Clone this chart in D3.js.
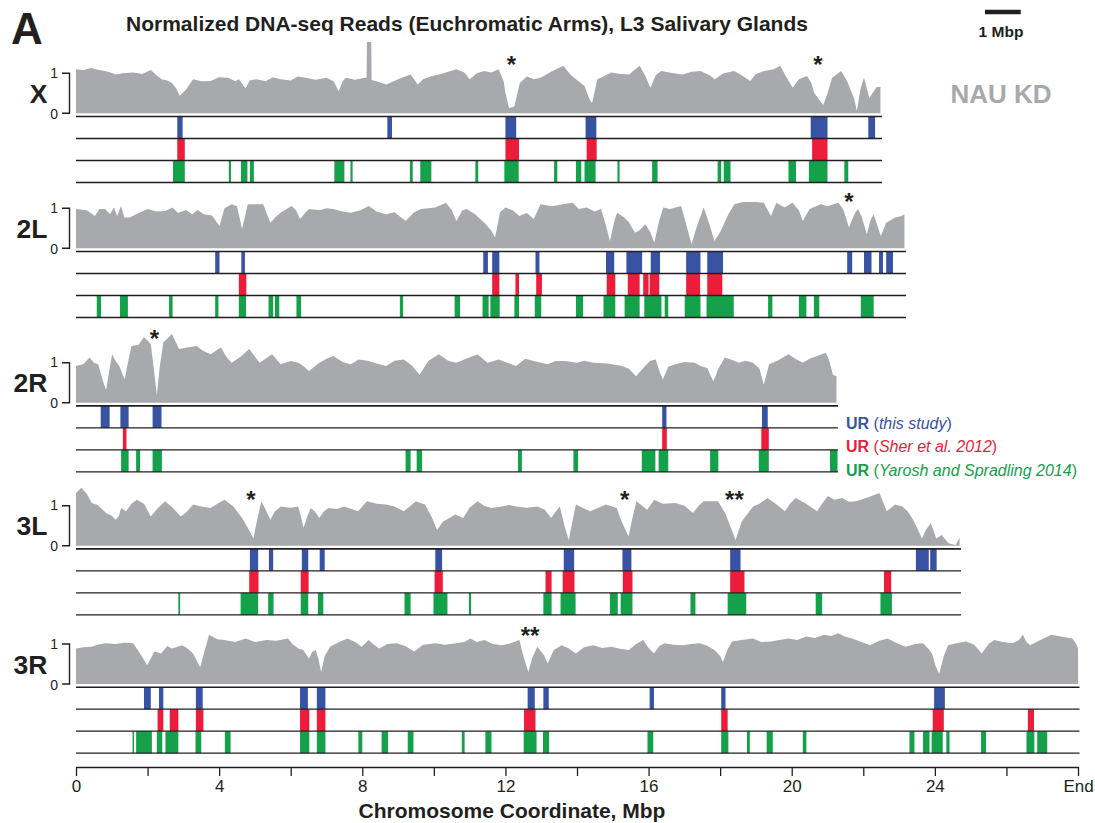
<!DOCTYPE html>
<html>
<head>
<meta charset="utf-8">
<script src="https://cdnjs.cloudflare.com/ajax/libs/d3/7.8.5/d3.min.js"></script>
<style>
html,body{margin:0;padding:0;background:#fff;}
svg{display:block;font-family:"Liberation Sans",Arial,Helvetica,sans-serif;}
</style>
</head>
<body>
<svg id="chart" width="1095" height="823"></svg>
<script>
// ---------------- DATA ----------------
const chromosomes = ["X", "2L", "2R", "3L", "3R"];
const chromLengths = [22.48, 23.15, 21.25, 24.69, 28.0]; // Mbp
const axisTicks = [0, 2, 4, 6, 8, 10, 12, 14, 16, 18, 20, 22, 24, 26, 28];
const axisTickLabels = ["0", "", "4", "", "8", "", "12", "", "16", "", "20", "", "24", "", "End"];
const trackNames = ["UR", "UR", "UR"];
const trackSources = ["this study", "Sher et al. 2012", "Yarosh and Spradling 2014"];

// normalized coverage [position Mbp, value]
const covX = [[0,1.10],[0.2,1.08],[0.43,1.13],[0.6,1.09],[0.82,1.06],[1.0,1.01],[1.11,0.97],[1.3,1.00],[1.6,1.02],[1.85,0.98],[2.09,1.08],[2.25,0.95],[2.39,0.85],[2.55,0.82],[2.68,0.76],[2.80,0.62],[2.90,0.44],[3.07,0.59],[3.27,0.85],[3.5,0.80],[3.76,0.81],[4.0,0.90],[4.25,0.89],[4.45,0.80],[4.55,0.85],[4.74,0.62],[4.85,0.82],[5.04,0.85],[5.3,0.80],[5.5,0.90],[5.72,0.85],[6.0,0.82],[6.2,0.92],[6.41,0.89],[6.7,0.84],[7.0,0.89],[7.2,0.80],[7.34,0.55],[7.45,0.80],[7.54,0.89],[7.8,0.84],[8.08,0.89],[8.12,0.89],[8.13,1.78],[8.25,1.78],[8.26,0.83],[8.37,0.81],[8.67,0.72],[9.0,0.85],[9.2,0.92],[9.35,0.97],[9.55,0.72],[9.7,0.85],[9.9,0.92],[10.2,0.98],[10.63,1.10],[10.85,1.02],[11.0,0.85],[11.2,1.00],[11.41,1.06],[11.6,1.02],[11.81,1.10],[11.95,0.80],[12.0,0.51],[12.1,0.13],[12.25,0.17],[12.4,0.76],[12.6,0.92],[12.8,0.85],[12.98,0.89],[13.3,1.05],[13.62,1.19],[13.8,0.98],[13.97,0.85],[14.21,0.68],[14.35,0.35],[14.42,0.25],[14.57,0.85],[14.8,0.95],[14.96,1.02],[15.2,0.98],[15.46,0.97],[15.6,1.08],[15.75,1.19],[15.9,0.95],[16.05,0.64],[16.2,0.95],[16.35,1.06],[16.7,1.00],[16.95,0.97],[17.2,1.04],[17.45,1.06],[17.7,0.95],[17.85,0.85],[18.1,1.00],[18.39,1.06],[18.6,0.95],[18.84,0.81],[19.0,0.98],[19.24,1.06],[19.5,1.10],[19.68,1.19],[19.85,0.90],[20.03,0.64],[20.2,0.85],[20.43,0.93],[20.55,0.75],[20.63,0.51],[20.88,0.21],[21.0,0.50],[21.13,0.89],[21.38,1.06],[21.55,0.80],[21.75,0.35],[21.82,0.06],[21.92,0.60],[22.02,0.89],[22.17,0.38],[22.37,0.66],[22.48,0.66]];
const cov2L = [[0,0.98],[0.3,0.95],[0.53,0.81],[0.65,0.98],[0.81,0.98],[0.95,0.85],[1.06,1.02],[1.15,0.81],[1.26,1.06],[1.35,0.77],[1.50,0.77],[1.75,0.88],[2.0,0.98],[2.25,0.92],[2.49,0.93],[2.7,1.02],[2.85,0.88],[3.07,0.96],[3.25,0.85],[3.4,0.96],[3.57,0.85],[3.8,0.82],[4.01,0.56],[4.15,1.0],[4.35,1.10],[4.5,1.05],[4.64,0.48],[4.8,1.10],[4.94,1.10],[5.23,1.10],[5.43,0.64],[5.6,0.80],[5.72,0.89],[6.02,1.06],[6.15,0.95],[6.26,0.73],[6.4,0.88],[6.51,0.98],[6.8,0.95],[7.0,1.0],[7.19,0.98],[7.45,0.92],[7.68,0.89],[7.95,0.95],[8.18,1.06],[8.4,0.92],[8.67,0.85],[8.9,0.90],[9.21,0.68],[9.45,0.90],[9.65,0.98],[10.04,1.02],[10.2,1.08],[10.34,1.14],[10.5,0.95],[10.63,0.68],[10.8,0.95],[10.92,0.98],[11.15,0.85],[11.41,0.64],[11.6,0.45],[11.71,0.27],[11.85,0.90],[12.0,1.02],[12.2,0.95],[12.39,0.81],[12.6,0.88],[12.79,0.73],[12.98,1.10],[13.3,1.05],[13.6,1.10],[13.88,1.14],[14.05,0.98],[14.27,1.02],[14.5,0.92],[14.67,0.98],[14.80,0.60],[14.92,0.18],[15.05,0.70],[15.12,0.89],[15.32,0.77],[15.45,0.65],[15.62,0.39],[15.75,0.45],[15.91,0.60],[16.05,0.40],[16.16,0.14],[16.3,0.70],[16.41,1.02],[16.6,0.98],[16.91,1.06],[17.05,0.60],[17.20,0.10],[17.35,0.55],[17.54,1.02],[17.7,0.60],[17.84,0.18],[18.0,0.40],[18.23,0.85],[18.4,1.10],[18.63,1.16],[19.0,1.16],[19.22,1.14],[19.42,0.81],[19.57,1.14],[19.8,1.02],[20.02,1.14],[20.2,0.95],[20.31,0.68],[20.5,0.98],[20.81,1.10],[21.0,1.05],[21.31,1.14],[21.45,0.95],[21.60,0.52],[21.75,0.85],[21.85,0.98],[21.95,0.80],[22.10,0.35],[22.2,0.70],[22.29,0.85],[22.49,0.31],[22.64,0.64],[22.89,0.77],[23.05,0.80],[23.15,0.85]];
const cov2R = [[0,0.92],[0.2,0.96],[0.38,1.13],[0.5,1.0],[0.62,0.96],[0.75,0.55],[0.84,0.32],[0.92,0.75],[1.01,1.21],[1.1,1.05],[1.21,0.92],[1.36,0.58],[1.45,1.0],[1.55,1.42],[1.75,1.45],[1.90,1.64],[2.0,1.55],[2.09,1.47],[2.18,0.80],[2.26,0.19],[2.34,0.90],[2.44,1.51],[2.55,1.60],[2.68,1.72],[2.88,1.34],[3.1,1.38],[3.37,1.42],[3.55,1.30],[3.76,1.21],[4.05,1.38],[4.2,1.15],[4.35,1.0],[4.6,1.15],[4.84,1.34],[5.0,1.15],[5.13,1.0],[5.3,1.10],[5.48,1.21],[5.72,0.96],[6.0,1.04],[6.21,1.0],[6.35,0.92],[6.51,0.79],[6.8,1.0],[7.0,1.10],[7.19,1.17],[7.45,1.02],[7.68,0.96],[7.9,1.08],[8.18,1.04],[8.4,0.98],[8.67,0.92],[8.9,1.05],[9.16,1.08],[9.4,0.92],[9.60,0.70],[9.85,1.05],[10.14,1.21],[10.4,1.05],[10.63,1.0],[10.9,1.10],[11.22,1.21],[11.5,1.0],[11.81,1.08],[12.05,1.0],[12.30,0.92],[12.55,1.10],[12.79,1.04],[13.0,1.0],[13.18,0.96],[13.4,1.04],[13.67,1.04],[14.0,1.0],[14.2,1.05],[14.46,1.0],[14.85,0.98],[15.26,0.92],[15.45,0.85],[15.65,0.66],[15.9,0.92],[16.05,1.05],[16.20,1.08],[16.30,0.80],[16.40,0.58],[16.55,0.90],[16.75,0.96],[17.0,1.02],[17.29,1.0],[17.45,0.92],[17.64,0.87],[17.81,0.53],[17.95,0.85],[18.13,1.13],[18.3,1.08],[18.53,1.0],[18.7,1.05],[18.92,1.0],[19.1,0.85],[19.22,0.45],[19.37,0.96],[19.6,1.05],[19.91,1.21],[20.1,1.10],[20.31,1.0],[20.5,1.10],[20.71,1.17],[20.95,1.25],[21.05,1.05],[21.15,0.70],[21.25,0.66]];
const cov3L = [[0,1.32],[0.15,1.45],[0.3,1.30],[0.44,1.07],[0.6,1.02],[0.84,0.82],[1.0,0.75],[1.11,0.65],[1.2,0.75],[1.26,0.94],[1.40,0.86],[1.55,1.05],[1.70,1.15],[1.9,1.05],[2.09,0.73],[2.3,0.95],[2.49,1.11],[2.7,0.95],[2.93,0.73],[3.1,0.85],[3.27,1.03],[3.5,0.98],[3.76,0.94],[3.95,1.05],[4.15,1.15],[4.4,0.98],[4.64,0.69],[4.8,0.45],[4.96,0.18],[5.05,0.60],[5.18,1.11],[5.3,0.90],[5.43,0.65],[5.55,0.85],[5.72,0.98],[6.0,0.95],[6.21,0.98],[6.28,0.75],[6.36,0.44],[6.45,0.70],[6.56,0.94],[6.68,0.85],[6.80,0.69],[6.92,0.85],[7.05,0.94],[7.3,0.92],[7.49,0.98],[7.7,0.92],[7.88,0.86],[8.13,1.11],[8.4,1.05],[8.67,1.03],[8.9,0.98],[9.16,0.86],[9.35,1.0],[9.50,1.11],[9.75,1.03],[9.95,0.70],[10.09,0.39],[10.25,0.60],[10.43,0.69],[10.6,0.78],[10.82,0.69],[11.0,0.95],[11.22,1.11],[11.4,1.0],[11.61,0.94],[11.9,0.98],[12.1,1.02],[12.30,0.98],[12.6,0.95],[12.89,0.98],[13.1,0.90],[13.28,0.69],[13.40,0.85],[13.52,0.98],[13.65,0.50],[13.77,0.14],[13.87,0.60],[13.97,1.03],[14.15,0.95],[14.37,0.86],[14.6,0.95],[14.81,1.03],[15.11,0.94],[15.25,0.60],[15.44,0.23],[15.55,0.70],[15.66,1.11],[15.96,0.90],[16.16,1.15],[16.4,1.05],[16.75,1.07],[17.0,1.0],[17.24,0.82],[17.4,1.0],[17.54,1.11],[17.94,1.11],[18.15,0.80],[18.30,0.45],[18.43,0.14],[18.6,0.60],[18.92,0.98],[19.1,1.05],[19.32,1.19],[19.55,1.05],[19.81,0.86],[19.95,1.05],[20.11,1.19],[20.4,1.05],[20.71,0.86],[20.85,1.05],[21.01,1.24],[21.2,1.15],[21.41,1.19],[21.6,1.10],[21.80,1.11],[22.1,1.20],[22.45,1.32],[22.55,1.10],[22.65,0.86],[22.89,1.03],[23.09,0.98],[23.25,0.85],[23.39,0.65],[23.5,0.45],[23.64,0.18],[23.75,0.40],[23.89,0.56],[24.04,0.18],[24.19,0.27],[24.38,0.06],[24.58,0.02],[24.69,0.20]];
const cov3R = [[0,0.89],[0.2,0.92],[0.43,0.93],[0.6,0.98],[0.82,1.02],[1.1,1.0],[1.35,1.03],[1.60,1.02],[1.79,0.76],[1.99,0.47],[2.19,0.81],[2.38,0.76],[2.55,0.95],[2.68,0.89],[2.97,0.97],[3.1,0.90],[3.27,0.76],[3.47,0.42],[3.6,0.85],[3.72,1.23],[3.95,1.12],[4.15,1.10],[4.45,1.05],[4.74,1.14],[5.0,1.05],[5.33,1.10],[5.6,1.08],[5.92,1.14],[6.05,1.0],[6.21,0.89],[6.35,0.85],[6.51,0.64],[6.60,0.80],[6.70,0.85],[6.78,0.60],[6.85,0.30],[6.95,0.70],[7.10,0.93],[7.35,1.05],[7.59,1.14],[7.8,1.05],[7.98,0.93],[8.18,1.10],[8.3,1.0],[8.47,0.89],[8.7,1.0],[8.96,1.02],[9.2,0.95],[9.45,0.81],[9.7,0.98],[10.04,1.02],[10.3,0.98],[10.63,1.02],[10.85,1.05],[11.02,1.14],[11.2,1.05],[11.41,1.10],[11.65,1.0],[11.90,0.97],[12.15,1.02],[12.39,1.10],[12.50,0.70],[12.64,0.30],[12.75,0.65],[12.89,0.93],[13.08,0.72],[13.18,0.51],[13.35,0.85],[13.57,0.97],[13.75,0.90],[13.97,0.76],[14.2,0.92],[14.46,0.97],[14.7,0.90],[14.96,0.93],[15.2,0.88],[15.45,0.85],[15.65,1.0],[15.85,1.10],[16.0,0.90],[16.15,0.76],[16.3,0.95],[16.45,1.02],[16.7,0.98],[16.95,0.97],[17.2,1.0],[17.44,1.02],[17.65,0.95],[17.84,0.85],[18.0,0.70],[18.08,0.55],[18.2,0.85],[18.33,1.06],[18.6,1.10],[18.92,1.14],[19.15,1.05],[19.42,1.06],[19.65,1.10],[19.91,1.14],[20.15,1.10],[20.41,1.19],[20.65,1.15],[20.90,1.23],[21.1,1.20],[21.30,1.27],[21.5,1.18],[21.69,1.14],[21.95,1.05],[22.19,0.97],[22.45,1.08],[22.68,1.14],[22.95,1.02],[23.18,0.93],[23.45,1.0],[23.67,1.02],[23.85,0.85],[23.92,0.76],[24.02,0.45],[24.12,0.25],[24.25,0.70],[24.37,0.97],[24.6,1.02],[24.87,1.06],[25.1,0.98],[25.31,0.76],[25.5,1.0],[25.66,1.10],[25.9,1.05],[26.16,1.02],[26.35,1.10],[26.46,1.23],[26.56,1.05],[26.66,0.97],[26.95,1.10],[27.25,1.23],[27.55,1.18],[27.84,1.14],[27.95,1.0],[28.0,0.89]];

// unreplicated regions [start, end] Mbp
const urThisX = [[2.83,2.98],[8.70,8.83],[12.00,12.30],[14.24,14.54],[20.53,21.0],[22.14,22.33]];
const urSherX = [[2.83,3.04],[12.0,12.38],[14.27,14.55],[20.57,21.0]];
const urYaroshX = [[2.71,3.04],[4.27,4.33],[4.61,4.79],[4.86,4.97],[7.22,7.50],[7.67,7.73],[9.33,9.41],[9.62,9.93],[11.16,11.24],[11.97,12.37],[13.36,13.45],[13.97,14.12],[14.21,14.52],[15.13,15.19],[16.10,16.25],[17.93,18.03],[18.10,18.29],[19.91,20.12],[20.48,21.0],[21.47,21.58]];
const urThis2L = [[3.89,4.01],[4.62,4.72],[11.38,11.51],[11.63,11.83],[12.84,12.95],[14.81,15.04],[15.38,15.82],[16.06,16.32],[17.05,17.45],[17.64,18.08],[21.55,21.69],[22.02,22.23],[22.44,22.55],[22.64,22.83]];
const urSher2L = [[4.55,4.76],[11.63,11.83],[12.28,12.38],[12.86,13.02],[14.83,15.07],[15.42,15.75],[15.85,16.0],[16.03,16.30],[17.05,17.44],[17.64,18.06]];
const urYarosh2L = [[0.58,0.70],[1.23,1.45],[2.60,2.70],[3.89,3.98],[4.55,4.75],[5.38,5.51],[5.56,5.68],[6.16,6.29],[9.05,9.14],[10.58,10.73],[11.36,11.53],[11.58,11.84],[12.25,12.38],[12.82,13.0],[13.97,14.17],[14.74,15.07],[15.33,15.75],[15.88,16.36],[16.45,16.55],[17.01,17.45],[17.62,18.38],[19.34,19.46],[20.20,20.41],[20.62,20.77],[21.93,22.29]];
const urThis2R = [[0.69,0.94],[1.24,1.47],[2.14,2.39],[16.38,16.50],[19.17,19.33]];
const urSher2R = [[1.31,1.41],[16.38,16.51],[19.15,19.36]];
const urYarosh2R = [[1.26,1.47],[1.68,1.79],[2.14,2.40],[9.21,9.35],[9.52,9.67],[12.35,12.46],[13.90,14.03],[15.81,16.19],[16.28,16.55],[17.72,17.95],[19.08,19.36],[21.07,21.28]];
const urThis3L = [[4.86,5.09],[5.39,5.51],[6.31,6.49],[6.81,6.95],[10.04,10.23],[13.63,13.92],[15.27,15.52],[18.28,18.57],[23.47,23.83],[23.87,24.05]];
const urSher3L = [[4.84,5.10],[6.28,6.50],[10.02,10.25],[13.12,13.29],[13.60,13.93],[15.28,15.55],[18.28,18.68],[22.58,22.78]];
const urYarosh3L = [[2.86,2.91],[4.60,5.09],[5.37,5.52],[6.28,6.49],[6.76,6.91],[9.18,9.35],[9.99,10.38],[10.98,11.04],[13.06,13.29],[13.54,13.96],[14.92,15.14],[15.22,15.55],[17.17,17.31],[18.21,18.73],[20.67,20.85],[22.48,22.80]];
const urThis3R = [[1.90,2.09],[2.32,2.44],[3.35,3.54],[6.26,6.48],[6.73,6.97],[12.62,12.82],[13.06,13.21],[16.03,16.15],[18.03,18.15],[23.98,24.28]];
const urSher3R = [[2.28,2.44],[2.62,2.86],[3.35,3.56],[6.26,6.52],[6.73,6.97],[12.52,12.84],[18.03,18.21],[23.94,24.25],[26.60,26.77]];
const urYarosh3R = [[1.58,1.62],[1.68,2.12],[2.26,2.41],[2.50,2.86],[3.34,3.50],[4.16,4.32],[6.26,6.52],[6.73,6.97],[7.89,8.00],[8.54,8.72],[9.27,9.43],[10.78,10.86],[11.44,11.61],[12.51,12.87],[13.05,13.22],[15.97,16.13],[18.03,18.23],[18.75,18.83],[19.30,19.47],[20.31,20.41],[23.29,23.43],[23.67,23.85],[23.91,24.22],[24.32,24.41],[25.29,25.43],[26.56,26.78],[26.86,27.14]];

// asterisk annotations
const asteriskChrom = [0, 0, 1, 2, 3, 3, 3, 4];
const asteriskPos = [12.17, 20.73, 21.6, 2.19, 4.89, 15.33, 18.4, 12.69];
const asteriskText = ["*", "*", "*", "*", "*", "*", "**", "**"];

// ---------------- LAYOUT / STYLE ----------------
const coverages = [covX, cov2L, cov2R, cov3L, cov3R];
const tracks = [
  [urThisX, urSherX, urYaroshX],
  [urThis2L, urSher2L, urYarosh2L],
  [urThis2R, urSher2R, urYarosh2R],
  [urThis3L, urSher3L, urYarosh3L],
  [urThis3R, urSher3R, urYarosh3R]
];
const zeroY = [113.3, 248.3, 402.7, 545.7, 684.0];
const asteriskY = [62, 62, 199, 336, 497, 497, 497, 633];
const unitPx = 40;
const trackTopOffset = 3.2;
const rowH = 22;
const trackColors = ["#3953A4", "#ED1C3A", "#15A04A"];
const gray = "#A7A9AC";
const ink = "#231F20";

const svg = d3.select("#chart");
const x = d3.scaleLinear().domain([0, 28]).range([76, 1078]);

// title & panel letter
svg.append("text").attr("x", 11).attr("y", 43.5).attr("font-size", 44).attr("font-weight", "bold").attr("fill", ink).text("A");
svg.append("text").attr("x", 467).attr("y", 31).attr("text-anchor", "middle").attr("font-size", 21).attr("font-weight", "bold").attr("fill", ink)
  .text("Normalized DNA-seq Reads (Euchromatic Arms), L3 Salivary Glands");

// scale bar 1 Mbp
const sb0 = x(25.4), sb1 = x(26.4);
svg.append("line").attr("x1", sb0).attr("x2", sb1).attr("y1", 12).attr("y2", 12).attr("stroke", ink).attr("stroke-width", 4.5);
svg.append("text").attr("x", 1001).attr("y", 37).attr("text-anchor", "middle").attr("font-size", 15.5).attr("font-weight", "bold").attr("fill", ink).text("1 Mbp");
svg.append("text").attr("x", 1001).attr("y", 103).attr("text-anchor", "middle").attr("font-size", 26).attr("font-weight", "bold").attr("fill", gray).text("NAU KD");

chromosomes.forEach((chr, i) => {
  const z = zeroY[i];
  const y = d3.scaleLinear().domain([0, 1]).range([z, z - unitPx]);
  const g = svg.append("g");
  const L = chromLengths[i];

  // coverage area
  const area = d3.area().x(d => x(d[0])).y0(z).y1(d => y(d[1])).curve(d3.curveLinear);
  g.append("path").datum(coverages[i]).attr("d", area).attr("fill", gray);

  // bracket
  const bx = 69.5;
  g.append("path").attr("d", `M${bx-7.5},${y(1)}H${bx}V${y(0)}H${bx-7.5}`).attr("fill", "none").attr("stroke", ink).attr("stroke-width", 1.4);
  g.append("text").attr("x", 58).attr("y", y(1) + 4.5).attr("text-anchor", "end").attr("font-size", 14).attr("fill", ink).text("1");
  g.append("text").attr("x", 58).attr("y", y(0) + 5.5).attr("text-anchor", "end").attr("font-size", 14).attr("fill", ink).text("0");

  // chromosome label
  g.append("text").attr("x", 47.5).attr("y", z - 10.5).attr("text-anchor", "end").attr("font-size", 26.5).attr("font-weight", "bold").attr("fill", ink).text(chr);

  // tracks
  const t0 = z + trackTopOffset;
  tracks[i].forEach((tr, k) => {
    g.selectAll(null).data(tr).enter().append("rect")
      .attr("x", d => x(d[0]))
      .attr("width", d => Math.max(1.2, x(d[1]) - x(d[0])))
      .attr("y", t0 + k * rowH)
      .attr("height", rowH)
      .attr("fill", trackColors[k]);
  });
  for (let k = 0; k < 4; k++) {
    g.append("line").attr("x1", x(0)).attr("x2", x(L) + 1.5)
      .attr("y1", t0 + k * rowH).attr("y2", t0 + k * rowH)
      .attr("stroke", ink).attr("stroke-width", k === 0 ? 1.6 : 1.3);
  }
});

// asterisks
asteriskPos.forEach((p, j) => {
  svg.append("text").attr("x", x(p)).attr("y", asteriskY[j] + 11).attr("text-anchor", "middle")
    .attr("font-size", 24).attr("font-weight", "bold").attr("fill", ink).text(asteriskText[j]);
});

// legend
const legendY = [429, 452, 475.5];
trackSources.forEach((src, k) => {
  const t = svg.append("text").attr("x", 846).attr("y", legendY[k]).attr("font-size", 16).attr("fill", trackColors[k]);
  t.append("tspan").attr("font-weight", "bold").text(trackNames[k]);
  t.append("tspan").text(" (");
  t.append("tspan").attr("font-style", "italic").text(src);
  t.append("tspan").text(")");
});

// x axis
const axis = d3.axisBottom(x).tickValues(axisTicks).tickFormat((d, i) => axisTickLabels[i]).tickSize(9).tickSizeOuter(0).tickPadding(4);
const ag = svg.append("g").attr("transform", "translate(0,767)").call(axis);
ag.select(".domain").attr("stroke", ink).attr("stroke-width", 1.5);
ag.selectAll(".tick line").attr("stroke", ink).attr("stroke-width", 1.3);
ag.selectAll(".tick text").attr("font-size", 17).attr("fill", ink).attr("font-family", "Liberation Sans, Arial, sans-serif");

svg.append("text").attr("x", 512).attr("y", 818).attr("text-anchor", "middle").attr("font-size", 21).attr("font-weight", "bold").attr("fill", ink)
  .text("Chromosome Coordinate, Mbp");
</script>
</body>
</html>
